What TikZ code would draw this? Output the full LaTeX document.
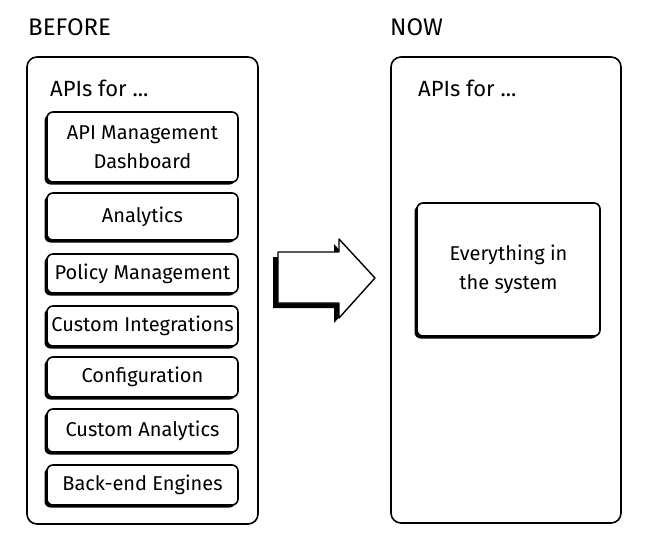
\documentclass[tikz,border=0pt]{standalone}
\usepackage{fontspec}
\setmainfont{Fira Sans}
\usetikzlibrary{shadows, positioning}

\begin{document}
\begin{tikzpicture}[x=1pt, y=-1pt,
    panel/.style={rectangle, draw, line width=1.6pt, rounded corners=10pt},
    item/.style={rectangle, draw, fill=white, line width=1.6pt, rounded corners=6pt, minimum width=191pt, inner sep=1pt, align=center, font=\fontsize{20}{29}\selectfont, drop shadow={shadow xshift=-2.5pt, shadow yshift=-2.5pt, opacity=1, fill=black}},
    heading/.style={anchor=west, inner sep=0pt, font=\fontsize{24}{28}\selectfont},
    label/.style={anchor=west, inner sep=0pt, font=\fontsize{22}{26}\selectfont},
    bigarrow/.style={draw, fill=white, line width=1.4pt, line join=round, drop shadow={shadow xshift=-5pt, shadow yshift=-5pt, opacity=1, fill=black}}
]
\useasboundingbox (0,0) rectangle (648,543);

% Headings
\node[heading] (before) at (28,27) {BEFORE};
\node[heading] (now) at (390,27) {NOW};

% Panels
\node[panel, minimum width=231pt, minimum height=467pt] (left) at (142.5,290.5) {};
\node[panel, minimum width=230pt, minimum height=466pt] (right) at (506,290) {};

\node[label] (apisL) at (50,88) {APIs for ...};
\node[label] (apisR) at (418,88) {APIs for ...};

% Before - many APIs
\node[item, minimum height=70pt] (dash) at (142.5,147) {API Management\\Dashboard};
\node[item, minimum height=47pt] (analytics) at (142.5,216.5) {Analytics};
\node[item, minimum height=39pt] (policy) at (142.5,273.5) {Policy Management};
\node[item, minimum height=40pt] (integr) at (142.5,326) {Custom Integrations};
\node[item, minimum height=40pt] (config) at (142.5,377) {Configuration};
\node[item, minimum height=43pt] (custom) at (142.5,430.5) {Custom Analytics};
\node[item, minimum height=40pt] (backend) at (142.5,485) {Back-end Engines};

% Now - one API
\node[item, minimum width=183pt, minimum height=133pt] (all) at (508.5,269.5) {Everything in\\the system};

% Big arrow
\path[bigarrow] (278,252) -- (339,252) -- (339,239) -- (375,278) -- (339,318) -- (339,303) -- (278,303) -- cycle;

\end{tikzpicture}
\end{document}
